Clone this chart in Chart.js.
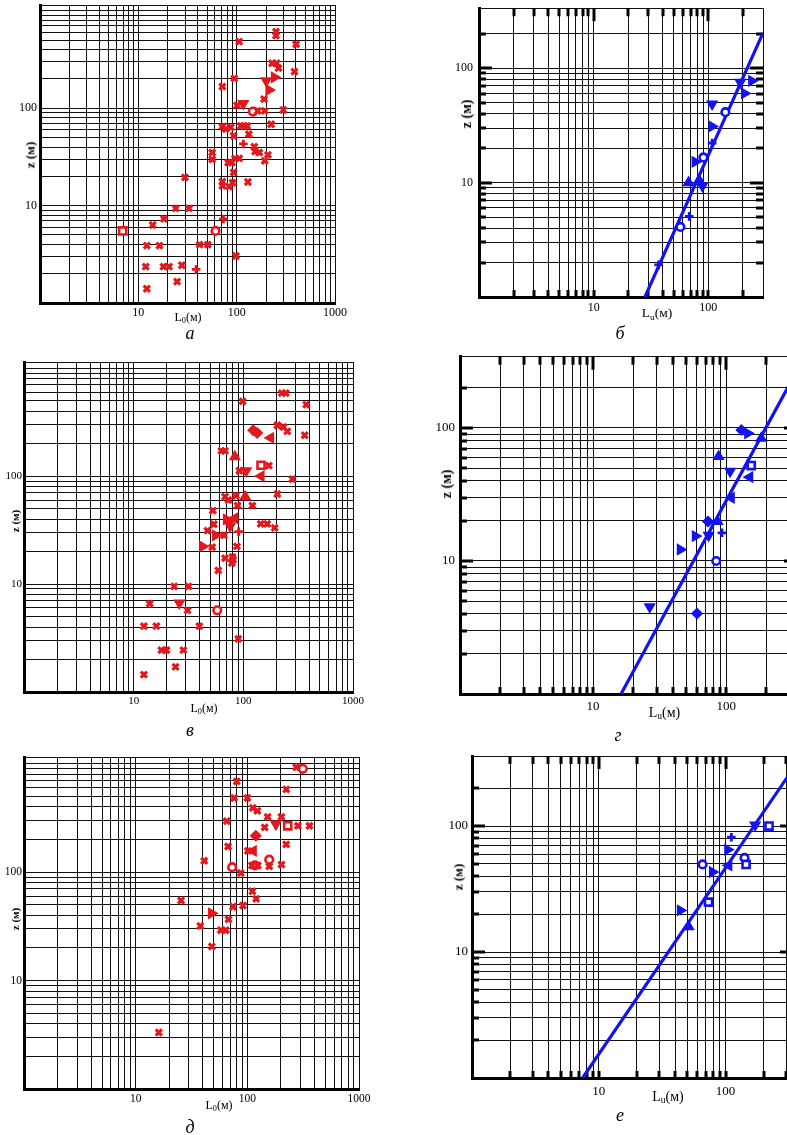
<!DOCTYPE html>
<html><head><meta charset="utf-8">
<script src="https://cdn.jsdelivr.net/npm/chart.js@4.4.1/dist/chart.umd.min.js"></script>
<style>
html,body{margin:0;padding:0;background:#fff;}
body{width:787px;height:1135px;overflow:hidden;position:relative;font-family:"Liberation Serif","Times New Roman",serif;color:#000;}
canvas{position:absolute;}
.t{position:absolute;white-space:nowrap;transform:translate(-50%,-50%);line-height:1;}
.yt{position:absolute;white-space:nowrap;transform:translate(-50%,-50%) rotate(-90deg);font-weight:bold;line-height:1;}
.lt{position:absolute;white-space:nowrap;transform:translate(-50%,-50%);font-style:italic;line-height:1;}
.sb{font-size:0.68em;position:relative;top:0.28em;}
</style>
</head><body>
<script>
// ---------- tick values ----------
const redTicks = [1,2,3,4,5,6,7,8,9,10,20,30,40,50,60,70,80,90,100,200,300,400,500,600,700,800,900,1000];
const blueTicksX = [1,2,3,4,5,6,7,8,9,10,20,30,40,50,60,70,80,90,100,200,300];
const blueTicksY = [1,2,3,4,5,6,7,8,9,10,20,30,40,50,60,70,80,90,100,200];
const xLabeledTicks = [10,100,1000];
const yLabeledTicks = [10,100];

// ---------- panel а (L0, red) ----------
const a_x = [[251,613],[251,558],[106,484],[402,455],[229,290],[255,290],[266,258],[387,238],[94.6,203],[71.6,167],[190,124],[101,107],[298,96],[164,94],[193,94],[224,68.5],[71.6,64.8],[77.5,61.3],[87.3,63.8],[110,65.8],[119,65.8],[128,65.8],[93.1,52],[133,54.1],[151,40.4],[154,35.9],[170,35.1],[56.4,35.1],[56.4,29.9],[208,33.2],[193,28.8],[96.1,30.6],[106,30.6],[81.9,27.7],[89.5,27.7],[29.8,19.5],[93.1,22],[71.6,17.6],[71.6,16],[90.9,17.2],[83.9,15.7],[130,17.5],[24,9.39],[32.8,9.39],[18.2,7.3],[14,6.33],[12.2,3.89],[16.4,3.89],[42,3.98],[50.8,3.98],[98.4,3.04],[11.9,2.36],[18,2.36],[20.5,2.36],[27.7,2.44],[24.8,1.66],[12.2,1.4]];
const a_triR = [[242,208],[213,154]];
const a_triD = [[200,192],[117,112]];
const a_circle = [[146,92.4],[61,5.5]];
const a_plus = [[117,43],[73.3,7.3],[38.7,2.22]];
const a_square = [[6.93,5.5]];

// ---------- panel б (Lu, blue) ----------
const b_triD = [[108,48.7],[88.8,9.36],[190,75.2]];
const b_circle = [[141,41.3],[90.6,16.6],[57.1,4.1]];
const b_triR = [[108,31],[76.8,15.2],[239,77.6],[207,60.3]];
const b_plus = [[108,22.2],[68.2,5.07],[36.9,1.91]];
const b_triU = [[67.3,10],[83.2,10.5]];
const b_line = [[28,1],[300,204]];

// ---------- panel в (L0, red) ----------
const v_x = [[224,587],[244,587],[98.6,492],[375,459],[204,296],[232,285],[252,260],[363,239],[63,171],[68.1,171],[171,125],[91.9,112],[280,93.8],[204,68.2],[68.1,64.4],[73.1,60],[85.5,65.8],[88.6,53.2],[121,53.2],[52.7,47.9],[53.9,35.8],[144,36.1],[165,36.1],[193,33.1],[47.1,31.3],[66.7,28.3],[52,22],[87.4,22.3],[68.1,17.4],[79.6,17.8],[80.8,16.8],[78.6,15.6],[59.1,13.4],[23.4,9.52],[31.6,9.52],[14,6.58],[31,5.71],[12.4,4.07],[16.1,4.07],[39.7,4.07],[89.9,3.11],[17.9,2.44],[19.9,2.44],[28.4,2.44],[24.1,1.71],[12.4,1.45]];
const v_diamond = [[123,266],[134,251]];
const v_triL = [[177,226],[145,100],[83.7,40.7]];
const v_triU = [[83.7,151],[104,64.4]];
const v_square = [[145,126]];
const v_triD = [[106,112],[74.1,36.6],[75.8,34.5],[26.1,6.68]];
const v_triR = [[70.1,39.8],[55.8,28.3],[42.6,22.3]];
const v_plus = [[90.6,30.6]];
const v_circle = [[57.8,5.71]];

// ---------- panel г (Lu, blue) ----------
const g_diamond = [[130,96.6],[72.9,19.8],[60.3,4.03]];
const g_triR = [[145,91.2],[58.6,15.4],[45.2,12.2]];
const g_triU = [[183,83.7],[87.6,61],[86.1,19.8]];
const g_square = [[154,52.2]];
const g_triD = [[107,47.3],[73.7,15.6],[26.6,4.52]];
const g_triL = [[150,42.7],[109,29.9]];
const g_plus = [[92.8,16.3]];
const g_circle = [[84.1,10]];
const g_line = [[16.2,1],[340,270]];

// ---------- panel д (L0, red) ----------
const d_x = [[274,926],[80.4,685],[223,578],[76.1,482],[100,482],[112,390],[123,366],[152,323],[202,323],[65.5,295],[143,258],[284,267],[360,267],[223,180],[67.3,172],[101,157],[41.1,127],[157,113],[87.3,98],[110,115],[124,115],[202,117],[111,66.5],[120,56.6],[25.5,54.7],[74.5,47.9],[91.4,49.2],[67.8,36.6],[37.9,31.8],[57.9,29.1],[64.2,29.1],[48.1,20.6],[16.1,3.32]];
const d_circle = [[314,894],[157,130],[73.1,111],[117,115]];
const d_triD = [[180,277]];
const d_square = [[230,267]];
const d_diamond = [[119,216]];
const d_triL = [[113,157]];
const d_triR = [[47.8,41.6]];

// ---------- panel е (Lu, blue) ----------
const e_triD = [[171,102]];
const e_square = [[220,100],[145,49.6],[73.3,24.9]];
const e_plus = [[111,81.6]];
const e_triR = [[104,65],[78.7,43.2],[44,21.4]];
const e_circle = [[141,55.9],[65.8,49.6]];
const e_triL = [[106,48.7]];
const e_triU = [[51.1,15.9]];
const e_line = [[7.45,1],[340,285]];

// ---------- drawing ----------
const RED = '#e3171c', BLUE = '#1212f2';
const FONT = '"Liberation Serif","Times New Roman",serif';
const STY = {
  x:{ps:'crossRot',rot:0,r:4.3,bw:3.2,hollow:false},
  plus:{ps:'cross',rot:0,r:4.3,bw:2.8,hollow:false},
  circle:{ps:'circle',rot:0,r:3.8,bw:2.6,hollow:true},
  square:{ps:'rect',rot:0,r:5,bw:2.6,hollow:true},
  diamond:{ps:'rectRot',rot:0,r:5,bw:1.5,hollow:false},
  triU:{ps:'triangle',rot:0,r:5.6,bw:1.5,hollow:false},
  triR:{ps:'triangle',rot:90,r:5.6,bw:1.5,hollow:false},
  triD:{ps:'triangle',rot:180,r:5.6,bw:1.5,hollow:false},
  triL:{ps:'triangle',rot:270,r:5.6,bw:1.5,hollow:false}
};

const edgeTicks = {
  id:'edgeTicks',
  beforeDatasetsDraw(chart){
    const {ctx, chartArea:ca, scales:{x,y}} = chart;
    ctx.save(); ctx.strokeStyle='#000'; ctx.lineWidth=3; ctx.lineCap='butt';
    const seg=(x1,y1,x2,y2)=>{ctx.beginPath();ctx.moveTo(x1,y1);ctx.lineTo(x2,y2);ctx.stroke();};
    x.ticks.forEach(t=>{
      const p=Math.round(x.getPixelForValue(t.value));
      if(p<ca.left+3||p>ca.right-1) return;
      const L = xLabeledTicks.includes(t.value)?13:8;
      seg(p,ca.top,p,ca.top+L); seg(p,ca.bottom,p,ca.bottom-7);
    });
    y.ticks.forEach(t=>{
      const p=Math.round(y.getPixelForValue(t.value));
      if(p<ca.top+1||p>ca.bottom-3) return;
      const L = yLabeledTicks.includes(t.value)?13:7;
      seg(ca.left,p,ca.left+L,p); seg(ca.right,p,ca.right-L,p);
    });
    ctx.restore();
  }
};

function makePanel(p){
  const [L,T,R,B]=p.area;
  const YW=40, XH=26, PT=12, PR=28;
  const w=R-L+YW+PR, h=B-T+PT+XH;
  const cv=document.createElement('canvas');
  cv.width=w; cv.height=h;
  cv.style.left=(L-YW)+'px'; cv.style.top=(T-PT)+'px';
  cv.style.width=w+'px'; cv.style.height=h+'px';
  document.body.appendChild(cv);
  const datasets=[];
  p.series.forEach(s=>{
    const st=STY[s.k];
    datasets.push({data:s.d, showLine:false, pointStyle:st.ps, pointRotation:st.rot,
      pointRadius:st.r, pointHoverRadius:st.r, pointBorderWidth:st.bw,
      borderColor:p.color, pointBorderColor:p.color,
      backgroundColor: st.hollow?'#fff':p.color, pointBackgroundColor: st.hollow?'#fff':p.color});
  });
  if(p.line){
    datasets.push({data:p.line, showLine:true, borderColor:p.color, borderWidth:3.2, pointRadius:0, pointHoverRadius:0, fill:false});
  }
  new Chart(cv,{
    type:'scatter',
    data:{datasets},
    options:{
      responsive:false, animation:false, devicePixelRatio:1,
      layout:{padding:{left:0,right:PR,top:PT,bottom:0}},
      plugins:{legend:{display:false},tooltip:{enabled:false}},
      events:[],
      scales:{
        x:{type:'logarithmic', min:1, max:p.xMax,
          afterBuildTicks:s=>{s.ticks=p.xTicks.map(v=>({value:v}));},
          afterFit:s=>{s.height=XH;},
          ticks:{autoSkip:false,maxRotation:0,minRotation:0,padding:p.xPad,color:'#000',font:{family:FONT,size:p.fs},
                 callback:v=>xLabeledTicks.includes(v)?String(v):''},
          grid:{color:'#111',lineWidth:1,drawTicks:false},
          border:{display:true,color:'#000',width:3}},
        y:{type:'logarithmic', min:1, max:p.yMax,
          afterBuildTicks:s=>{s.ticks=p.yTicks.map(v=>({value:v}));},
          afterFit:s=>{s.width=YW;},
          ticks:{autoSkip:false,padding:p.yPad,color:'#000',font:{family:FONT,size:p.fs},
                 callback:v=>yLabeledTicks.includes(v)?String(v):''},
          grid:{color:'#111',lineWidth:1,drawTicks:false},
          border:{display:true,color:'#000',width:3}}
      }
    },
    plugins: p.edge?[edgeTicks]:[]
  });
}

function addText(cls,html,x,y,size){
  const d=document.createElement('div');
  d.className=cls; d.innerHTML=html;
  d.style.left=x+'px'; d.style.top=y+'px'; d.style.fontSize=size+'px';
  document.body.appendChild(d);
}

const panels=[
  {area:[40,5,335,303], xMax:1000, yMax:1150, xTicks:redTicks, yTicks:redTicks.concat([1150]), color:RED, fs:12, xPad:3, yPad:3, edge:false,
   series:[{k:'x',d:a_x},{k:'triR',d:a_triR},{k:'triD',d:a_triD},{k:'circle',d:a_circle},{k:'plus',d:a_plus},{k:'square',d:a_square}]},
  {area:[479,7,763,297], xMax:300, yMax:335, xTicks:blueTicksX, yTicks:blueTicksY.concat([335]), color:BLUE, fs:12, xPad:4, yPad:6, edge:true, line:b_line,
   series:[{k:'triD',d:b_triD},{k:'circle',d:b_circle},{k:'triR',d:b_triR},{k:'plus',d:b_plus},{k:'triU',d:b_triU}]},
  {area:[24,362,353,692], xMax:1000, yMax:1140, xTicks:redTicks, yTicks:redTicks.concat([1140]), color:RED, fs:11, xPad:3, yPad:2, edge:false,
   series:[{k:'x',d:v_x},{k:'diamond',d:v_diamond},{k:'triL',d:v_triL},{k:'triU',d:v_triU},{k:'square',d:v_square},{k:'triD',d:v_triD},{k:'triR',d:v_triR},{k:'plus',d:v_plus},{k:'circle',d:v_circle}]},
  {area:[460,356,797,694], xMax:340, yMax:343, xTicks:blueTicksX.concat([340]), yTicks:blueTicksY.concat([343]), color:BLUE, fs:13, xPad:5, yPad:5, edge:true, line:g_line,
   series:[{k:'diamond',d:g_diamond},{k:'triR',d:g_triR},{k:'triU',d:g_triU},{k:'square',d:g_square},{k:'triD',d:g_triD},{k:'triL',d:g_triL},{k:'plus',d:g_plus},{k:'circle',d:g_circle}]},
  {area:[24,757,359,1089], xMax:1000, yMax:1150, xTicks:redTicks, yTicks:redTicks.concat([1150]), color:RED, fs:11.5, xPad:3, yPad:2, edge:false,
   series:[{k:'x',d:d_x},{k:'circle',d:d_circle},{k:'triD',d:d_triD},{k:'square',d:d_square},{k:'diamond',d:d_diamond},{k:'triL',d:d_triL},{k:'triR',d:d_triR}]},
  {area:[472,756,793,1078], xMax:340, yMax:360, xTicks:blueTicksX.concat([340]), yTicks:blueTicksY.concat([360]), color:BLUE, fs:13, xPad:6, yPad:4, edge:true, line:e_line,
   series:[{k:'triD',d:e_triD},{k:'square',d:e_square},{k:'plus',d:e_plus},{k:'triR',d:e_triR},{k:'circle',d:e_circle},{k:'triL',d:e_triL},{k:'triU',d:e_triU}]}
];
panels.forEach(makePanel);

const L0 = 'L<span class="sb">0</span>(м)';
const LU = 'L<span class="sb">u</span>(м)';
// axis titles
addText('yt','z (м)',30,155,13);
addText('yt','z (м)',467,114,14);
addText('yt','z (м)',14.5,521,11);
addText('yt','z (м)',447,484,14);
addText('yt','z (м)',15,919,11);
addText('yt','z (м)',458,877,13);
addText('t',L0,188,316.5,12);
addText('t',LU,657,313,13.5);
addText('t',L0,204,707.5,12);
addText('t',LU,664.5,712.5,14);
addText('t',L0,219,1105,12);
addText('t',LU,668,1096.5,14);
// panel letters
addText('lt','а',190,333,18);
addText('lt','б',620,333,18);
addText('lt','в',190,730,18);
addText('lt','г',618,735,18);
addText('lt','д',190,1127,18);
addText('lt','е',620,1115,18);
</script>
</body></html>
